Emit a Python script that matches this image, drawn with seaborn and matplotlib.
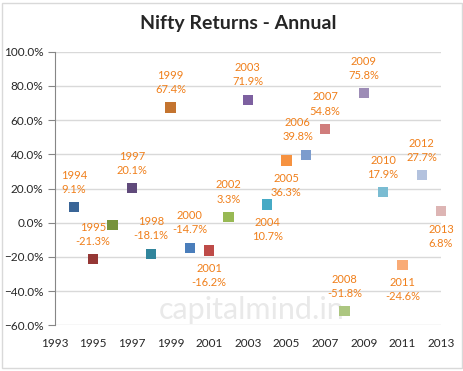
import pandas as pd
import matplotlib.pyplot as plt
import seaborn as sns
from matplotlib.patches import Rectangle
from matplotlib.ticker import PercentFormatter

# Annual Nifty returns (%)
years = [1994, 1995, 1996, 1997, 1998, 1999, 2000, 2001, 2002, 2003,
         2004, 2005, 2006, 2007, 2008, 2009, 2010, 2011, 2012, 2013]
returns = [9.1, -21.3, -1.5, 20.1, -18.1, 67.4, -14.7, -16.2, 3.3, 71.9,
           10.7, 36.3, 39.8, 54.8, -51.8, 75.8, 17.9, -24.6, 27.7, 6.8]
x_ticks = [1993, 1995, 1997, 1999, 2001, 2003, 2005, 2007, 2009, 2011, 2013]
y_ticks = [-60, -40, -20, 0, 20, 40, 60, 80, 100]

# Excel "vary colours by point"
point_colors = ['#3A6597', '#953735', '#77933C', '#604A7B', '#31859C',
                '#C4742F', '#4A7EBB', '#BE4B48', '#98B954', '#7D60A0',
                '#46AAC5', '#F69240', '#7C9CCD', '#D07D7C', '#ACC680',
                '#9D8CB6', '#7ABCD2', '#F9AB76', '#B3C2DE', '#DDB5B4']

df = pd.DataFrame({'Year': years, 'Return': returns})

sns.set_style('white')
plt.rcParams['font.family'] = ['Lato', 'DejaVu Sans']

fig = plt.figure(figsize=(4.64, 3.71), dpi=100)
ax = fig.add_axes([0.1175, 0.1232, 0.833, 0.7374])

# chart border
fig.patches.append(Rectangle((2 / 464, 3 / 371), 460 / 464, 365 / 371,
                             transform=fig.transFigure, fill=False,
                             edgecolor='#D9D9D9', linewidth=1))

# watermark (behind the markers)
ax.text(252 / 464, 1 - 310 / 371, 'capitalmind.in', fontsize=22,
        color='#E9E9E9', ha='center', va='center', zorder=1,
        transform=fig.transFigure)

sns.scatterplot(data=df, x='Year', y='Return', hue='Year',
                palette=point_colors, marker='s', s=55, linewidth=0,
                legend=False, ax=ax, zorder=3, clip_on=False)

# labels: which ones sit below the marker, plus small sideways shifts
below = {2001, 2004, 2005, 2011, 2013}
shift_x = {2006: -8}
for yr, val in zip(years, returns):
    if yr == 1996:
        continue
    dy = -25 if yr in below else 25
    ax.annotate(f'{yr}\n{val:.1f}%', (yr, val),
                xytext=(shift_x.get(yr, 0), dy), textcoords='offset pixels',
                ha='center', va='center', fontsize=8, color='#F07F1A',
                linespacing=1.35, zorder=4, annotation_clip=False)

ax.set_xlim(1993, 2013)
ax.set_ylim(-60, 100)
ax.set_xticks(x_ticks)
ax.set_yticks(y_ticks)
ax.yaxis.set_major_formatter(PercentFormatter(decimals=1))
ax.grid(axis='y', color='#D9D9D9', linewidth=1)
ax.set_axisbelow(True)
ax.set_xlabel('')
ax.set_ylabel('')

for side in ['top', 'right', 'bottom']:
    ax.spines[side].set_visible(False)
ax.spines['left'].set_color('#868686')
ax.tick_params(axis='y', which='major', length=5, color='#868686',
               left=True, labelsize=8.5, pad=3)
ax.tick_params(axis='x', length=0, labelsize=8.5, pad=9)

fig.text(238.7 / 464, 1 - 24 / 371, 'Nifty Returns - Annual',
         fontsize=14, fontweight='bold', ha='center', va='center')

plt.savefig('out.png', dpi=100)
